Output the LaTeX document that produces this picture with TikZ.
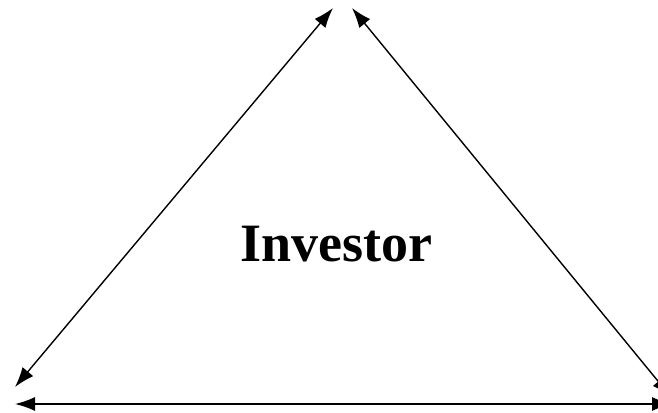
\documentclass[tikz,border=0pt]{standalone}
\usepackage{fontspec}
\setmainfont{Liberation Serif}
\usetikzlibrary{arrows.meta}

\begin{document}
\begin{tikzpicture}[x=1pt, y=-1pt, >={Latex[length=20pt,width=14pt]}, link/.style={<->, line width=1.4pt}]
\useasboundingbox (0,0) rectangle (658,412);
\coordinate (topL) at (333,8);
\coordinate (topR) at (352,8);
\coordinate (botL) at (15,387);
\coordinate (botR) at (671,397);
\coordinate (baseL) at (15,404);
\coordinate (baseR) at (672,404);
\node[font=\bfseries\fontsize{54}{64}\selectfont] (inv) at (336,244) {Investor};
\draw[link] (botL) -- (topL);
\draw[link] (topR) -- (botR);
\draw[link] (baseL) -- (baseR);
\end{tikzpicture}
\end{document}
